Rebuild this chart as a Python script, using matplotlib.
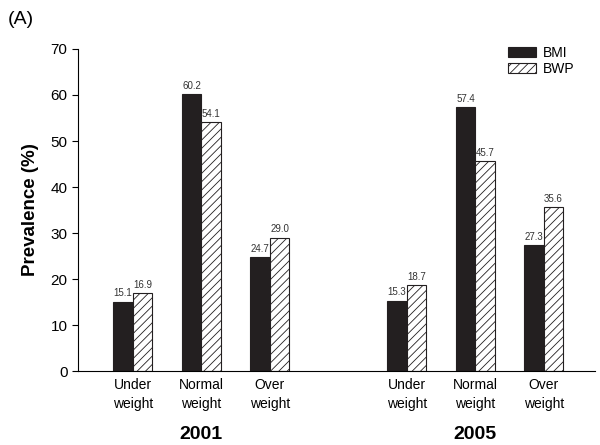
import numpy as np
import matplotlib
matplotlib.use('Agg')
import matplotlib.pyplot as plt

plt.rcParams['font.family'] = ['Liberation Sans', 'DejaVu Sans']
plt.rcParams['hatch.linewidth'] = 0.6

# data
categories = ['Under\nweight', 'Normal\nweight', 'Over\nweight']
years = ['2001', '2005']
bmi = [15.1, 60.2, 24.7, 15.3, 57.4, 27.3]
bwp = [16.9, 54.1, 29.0, 18.7, 45.7, 35.6]

pos = np.array([0, 1, 2, 4, 5, 6], dtype=float)
w = 0.285

fig = plt.figure(figsize=(6, 4.45), dpi=100)
ax = fig.add_axes([0.13, 0.166, 0.862, 0.724])

ax.bar(pos - w / 2, bmi, w, color='#231f20', edgecolor='#231f20',
       linewidth=0.8, label='BMI')
ax.bar(pos + w / 2, bwp, w, color='white', edgecolor='#231f20',
       hatch='////', linewidth=0.8, label='BWP')

for x, v in zip(pos - w / 2, bmi):
    ax.text(x, v + 0.7, '%.1f' % v, ha='center', va='bottom', fontsize=7,
            color='#333333')
for x, v in zip(pos + w / 2, bwp):
    ax.text(x, v + 0.7, '%.1f' % v, ha='center', va='bottom', fontsize=7,
            color='#333333')

ax.set_xlim(-0.8, 6.75)
ax.set_ylim(0, 70)
ax.set_yticks(range(0, 71, 10))
ax.set_xticks(pos)
ax.set_xticklabels(categories * 2, fontsize=10, linespacing=1.45)
ax.tick_params(axis='x', length=0, pad=5)
ax.tick_params(axis='y', direction='out', length=4, labelsize=11)
ax.spines['top'].set_visible(False)
ax.spines['right'].set_visible(False)

ax.set_ylabel('Prevalence (%)', fontsize=13.5, fontweight='bold', labelpad=8)

for i, yr in enumerate(years):
    ax.text(pos[3 * i + 1], -13.8, yr, ha='center', va='center',
            fontsize=14, fontweight='bold')

fig.text(0.013, 0.956, '(A)', fontsize=14, ha='left', va='center')

ax.legend(loc='upper right', bbox_to_anchor=(0.978, 1.04), frameon=False,
          fontsize=10, handlelength=2.0, handleheight=0.75,
          labelspacing=0.15, borderpad=0.2, handletextpad=0.5)

fig.savefig('out.png', dpi=100)
